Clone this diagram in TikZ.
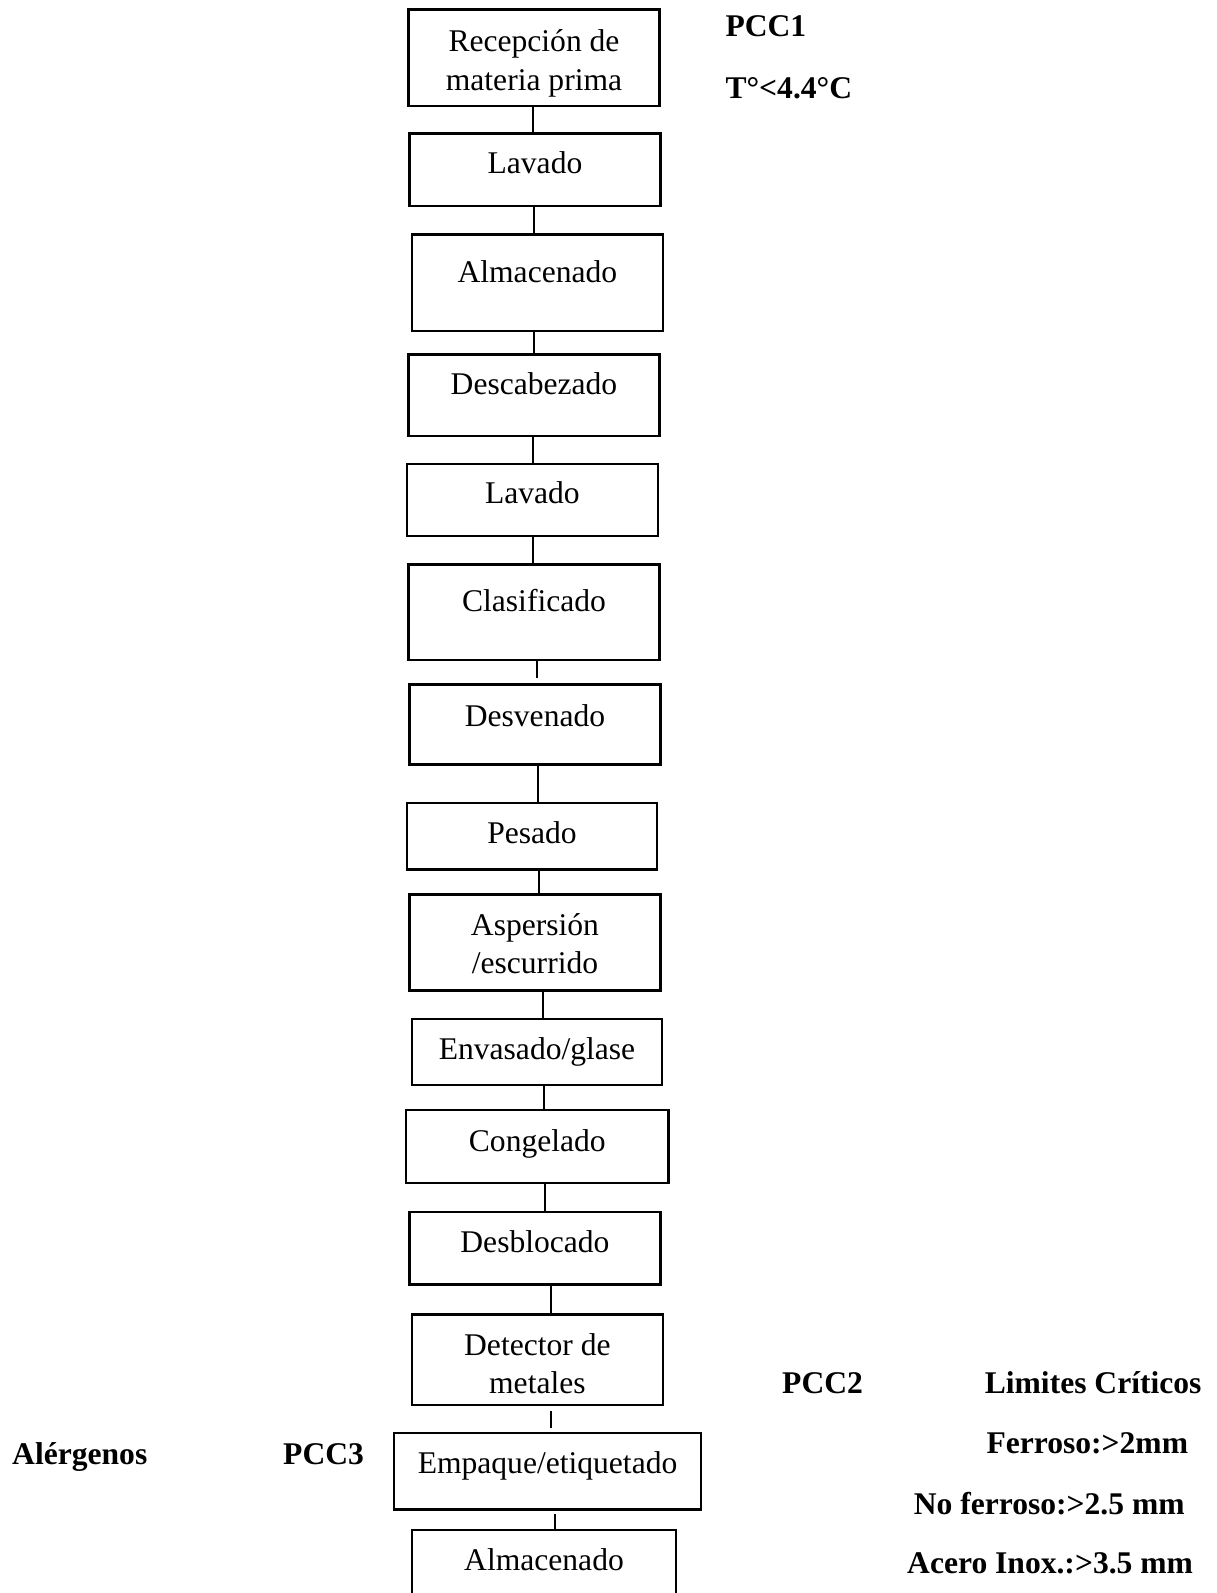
\documentclass[tikz,border=0pt]{standalone}
\usepackage{fontspec}
\setmainfont{Liberation Serif}

\tikzset{
  paso/.style={draw,rectangle,line width=0.9pt,inner ysep=0pt,minimum width=95.38pt,align=center,anchor=north west},
  nota/.style={font=\fontsize{12}{14.67}\selectfont\bfseries,inner sep=0pt,anchor=base west},
  linea/.style={line width=0.8pt}
}

\begin{document}
\begin{tikzpicture}[x=0.38pt,y=-0.38pt,font=\fontsize{12}{14.67}\selectfont]
  \fill[white] (0,0) rectangle (1217,1593);
  \useasboundingbox (0,0) rectangle (1217,1593);

  % diagrama de flujo
  \node[paso,text height=30.78pt,text depth=5.97pt] (recepcion) at (407.3,8.3) {Recepción de\\materia prima};
  \node[paso,text height=15.35pt,text depth=12.27pt] (lavadoA) at (408.3,132.3) {Lavado};
  \node[paso,text height=18.13pt,text depth=18.62pt] (almacenA) at (410.7,233.3) {Almacenado};
  \node[paso,text height=15.2pt,text depth=15.85pt] (descab) at (407.3,353.3) {Descabezado};
  \node[paso,text height=15.2pt,text depth=12.27pt] (lavadoB) at (405.7,462.7) {Lavado};
  \node[paso,text height=18.01pt,text depth=18.35pt] (clasif) at (407.3,563.3) {Clasificado};
  \node[paso,text height=15.85pt,text depth=14.55pt] (desven) at (408.3,683.3) {Desvenado};
  \node[paso,minimum width=95.11pt,text height=15.43pt,text depth=9.88pt] (pesado) at (405.7,801.7) {Pesado};
  \node[paso,text height=30.17pt,text depth=6.31pt] (aspers) at (408.3,893.3) {Aspersión\\/escurrido};
  \node[paso,minimum width=95.11pt,text height=15.43pt,text depth=9.77pt] (envas) at (410.7,1017.7) {Envasado/glase};
  \node[paso,minimum width=99.67pt,text height=15.58pt,text depth=12.05pt] (congel) at (405,1109) {Congelado};
  \node[paso,text height=15.31pt,text depth=12.27pt] (desbloc) at (408.3,1210.7) {Desblocado};
  \node[paso,text height=30.17pt,text depth=4.29pt] (detector) at (410.7,1313.3) {Detector de\\metales};
  \node[paso,minimum width=116.77pt,text height=15.58pt,text depth=13.53pt] (empaque) at (392.7,1431.7) {Empaque/etiquetado};
  \node[paso,minimum width=100.43pt,text height=15.31pt,text depth=19.27pt] (almacenB) at (410.7,1529) {Almacenado};

  % uniones
  \draw[linea] (recepcion.south -| 533.3,0) -- (lavadoA.north -| 533.3,0);
  \draw[linea] (lavadoA.south -| 534.3,0) -- (almacenA.north -| 534.3,0);
  \draw[linea] (almacenA.south -| 534,0) -- (descab.north -| 534,0);
  \draw[linea] (descab.south -| 533.3,0) -- (lavadoB.north -| 533.3,0);
  \draw[linea] (lavadoB.south -| 532.7,0) -- (clasif.north -| 532.7,0);
  \draw[linea,shorten >=2pt] (clasif.south -| 536.7,0) -- (desven.north -| 536.7,0);
  \draw[linea] (desven.south -| 538.3,0) -- (pesado.north -| 538.3,0);
  \draw[linea] (pesado.south -| 539,0) -- (aspers.north -| 539,0);
  \draw[linea] (aspers.south -| 543.3,0) -- (envas.north -| 543.3,0);
  \draw[linea] (envas.south -| 544.3,0) -- (congel.north -| 544.3,0);
  \draw[linea] (congel.south -| 545,0) -- (desbloc.north -| 545,0);
  \draw[linea] (desbloc.south -| 550.7,0) -- (detector.north -| 550.7,0);
  \draw[linea,shorten <=1.9pt,shorten >=1.4pt] (detector.south -| 550.7,0) -- (empaque.north -| 550.7,0);
  \draw[linea,shorten <=1.3pt] (empaque.south -| 555,0) -- (almacenB.north -| 555,0);

  % puntos criticos
  \node[nota] (pcc1) at (725,36) {PCC1};
  \node[nota] (temp) at (725,98.3) {T°<4.4°C};
  \node[nota] (pcc2) at (781.7,1393.3) {PCC2};
  \node[nota] (limites) at (984.3,1393.3) {Limites Críticos};
  \node[nota] (ferroso) at (986,1453.3) {Ferroso:>2mm};
  \node[nota] (noferroso) at (913.3,1514) {No ferroso:>2.5 mm};
  \node[nota] (acero) at (906.7,1573.3) {Acero Inox.:>3.5 mm};
  \node[nota] (alergenos) at (11.7,1464.3) {Alérgenos};
  \node[nota] (pcc3) at (282.7,1464.3) {PCC3};
\end{tikzpicture}
\end{document}
